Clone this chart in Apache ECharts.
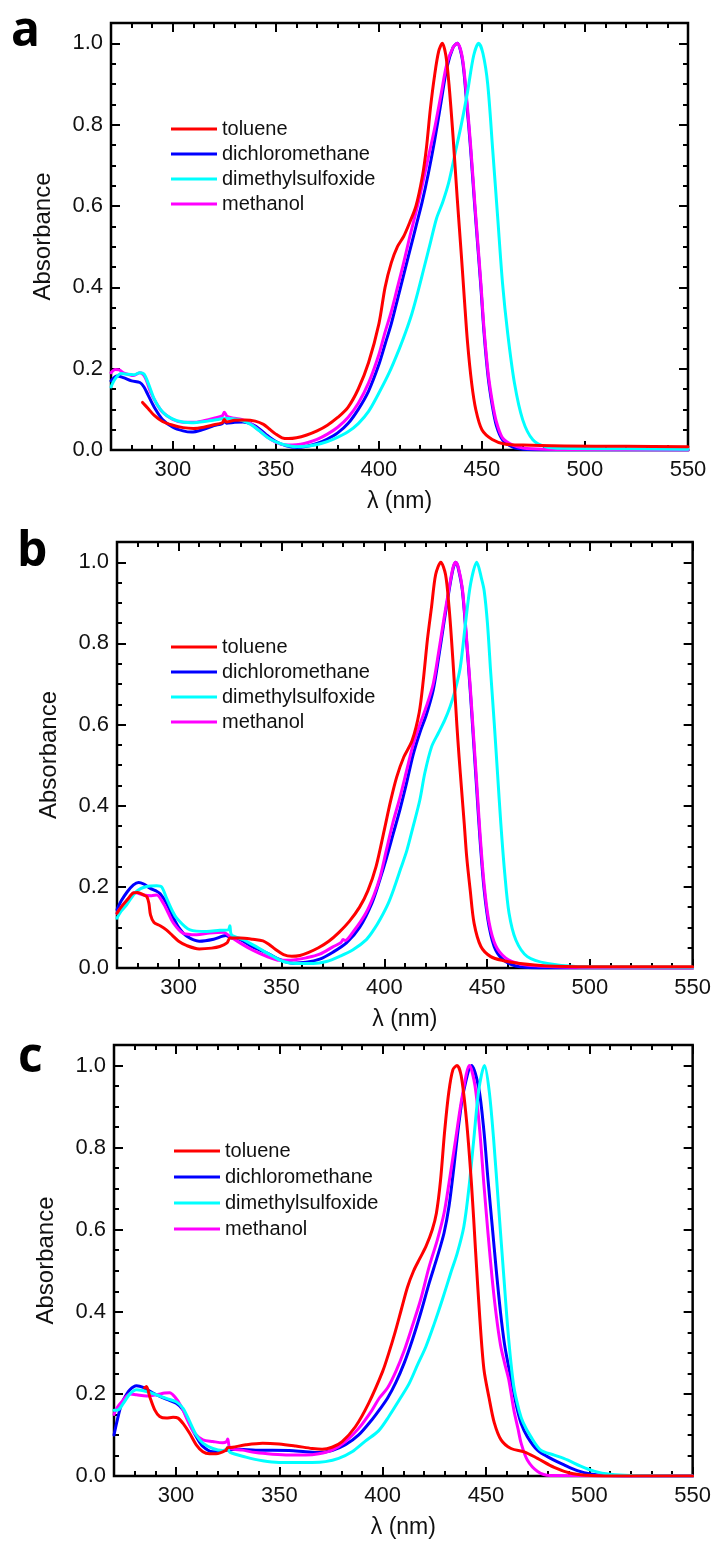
<!DOCTYPE html>
<html>
<head>
<meta charset="utf-8">
<title>Absorption spectra</title>
<script src="https://cdn.jsdelivr.net/npm/echarts@6/dist/echarts.min.js"></script>
<style>
  html, body { margin: 0; padding: 0; background: #fff; }
  #chart { width: 714px; height: 1541px; }
</style>
</head>
<body>
<div id="chart"></div>
<script>
// solvents, in legend order
const solvents = ['toluene', 'dichloromethane', 'dimethylsulfoxide', 'methanol']
const panelLetters = ['a', 'b', 'c']
const xMajorTicks = [300, 350, 400, 450, 500, 550]
const yMajorTicks = [0, 0.2, 0.4, 0.6, 0.8, 1.0]

// panel a: [wavelength nm, absorbance]
const aToluene = [[285.3,0.117],[288,0.102],[291,0.085],[295,0.07],[300,0.061],[305,0.055],[310,0.053],[315,0.056],[320,0.062],[324,0.067],[325,0.075],[326,0.069],[330,0.073],[335,0.074],[340,0.071],[344,0.063],[347,0.051],[350,0.039],[353,0.030],[356,0.028],[360,0.030],[365,0.037],[370,0.047],[375,0.061],[380,0.080],[385,0.105],[390,0.150],[395,0.215],[400,0.31],[403,0.40],[406,0.46],[409,0.50],[412,0.525],[415,0.56],[418,0.60],[421,0.67],[423,0.74],[425,0.84],[427,0.92],[429,0.98],[430.8,1.0],[432.5,0.97],[434,0.90],[436,0.77],[438,0.62],[440,0.48],[441.5,0.37],[443,0.265],[445,0.165],[447,0.10],[450,0.05],[455,0.026],[461,0.015],[470,0.012],[490,0.010],[520,0.009],[550,0.008]]
const aDcm = [[270,0.17],[273,0.182],[276,0.178],[280,0.17],[284,0.166],[286,0.155],[288,0.135],[291,0.105],[295,0.075],[300,0.056],[305,0.047],[309,0.044],[315,0.051],[320,0.060],[324,0.065],[325,0.071],[326,0.066],[330,0.068],[334,0.069],[338,0.064],[342,0.052],[346,0.035],[350,0.021],[355,0.010],[360,0.006],[365,0.009],[370,0.016],[375,0.027],[380,0.042],[385,0.065],[390,0.10],[395,0.145],[400,0.21],[403,0.26],[406,0.31],[409,0.37],[412,0.43],[415,0.49],[418,0.55],[421,0.61],[424,0.68],[427,0.76],[430,0.85],[433,0.94],[436,0.99],[438,1.0],[440.5,0.96],[442.5,0.86],[444.5,0.74],[446.5,0.60],[448,0.50],[449.5,0.40],[451,0.29],[453,0.18],[455,0.11],[457,0.06],[460,0.025],[465,0.007],[470,0.002],[480,0.0],[550,0.0]]
const aDmso = [[270,0.155],[272,0.175],[275,0.188],[278,0.186],[281,0.185],[284,0.19],[286,0.187],[288,0.165],[291,0.125],[294,0.1],[297,0.085],[302,0.072],[309,0.067],[317,0.071],[322,0.075],[325,0.078],[330,0.076],[334,0.072],[338,0.062],[342,0.047],[346,0.031],[350,0.02],[354,0.013],[360,0.008],[366,0.01],[372,0.016],[378,0.027],[385,0.045],[390,0.065],[395,0.095],[400,0.14],[405,0.19],[410,0.25],[413,0.29],[416,0.335],[419,0.39],[422,0.45],[425,0.51],[428,0.57],[431,0.61],[434,0.66],[437,0.73],[440,0.80],[443,0.88],[446,0.97],[448.4,1.0],[450.5,0.975],[452.8,0.90],[455.2,0.74],[457.6,0.575],[460,0.41],[462.5,0.287],[465.8,0.164],[469.8,0.074],[474.7,0.025],[481,0.008],[490,0.004],[520,0.003],[550,0.002]]
const aMeoh = [[270,0.19],[272,0.198],[274,0.197],[276,0.19],[279,0.185],[281,0.183],[284,0.19],[286.5,0.179],[289,0.145],[292,0.115],[295,0.093],[300,0.075],[305,0.068],[310,0.068],[315,0.072],[320,0.078],[324,0.084],[325,0.093],[326.5,0.082],[330,0.078],[334,0.074],[338,0.064],[342,0.048],[346,0.031],[350,0.019],[354,0.013],[358,0.012],[362,0.014],[366,0.019],[370,0.026],[375,0.039],[380,0.056],[385,0.08],[390,0.115],[395,0.165],[400,0.235],[403,0.29],[406,0.34],[409,0.40],[412,0.46],[415,0.525],[418,0.585],[421,0.65],[424,0.72],[427,0.79],[430,0.87],[433,0.95],[436,0.99],[438,1.0],[440.5,0.965],[442.5,0.87],[444.5,0.75],[446.5,0.61],[448,0.51],[449.5,0.41],[451,0.30],[453,0.19],[455,0.12],[457,0.07],[460,0.03],[465,0.012],[470,0.005],[480,0.002],[500,0.001],[550,0.0]]

// panel b
const bToluene = [[270,0.135],[272,0.15],[275,0.168],[278,0.185],[280,0.186],[283,0.18],[284.5,0.176],[285.5,0.16],[286.3,0.131],[288,0.112],[291,0.104],[294,0.094],[297,0.08],[300,0.066],[304,0.055],[310,0.047],[316,0.049],[320,0.053],[323.5,0.062],[325,0.074],[330,0.074],[336,0.071],[341,0.067],[344,0.058],[347,0.046],[351,0.033],[355,0.029],[359,0.031],[363,0.038],[368,0.050],[373,0.066],[378,0.088],[383,0.115],[388,0.15],[392,0.19],[396,0.25],[400,0.34],[403,0.41],[406,0.47],[409.5,0.52],[413.5,0.56],[417,0.63],[419,0.71],[421,0.81],[423,0.89],[425,0.97],[427.5,1.0],[429.8,0.97],[431.5,0.89],[432.7,0.81],[434,0.71],[435.3,0.60],[436.4,0.52],[437.6,0.44],[438.9,0.356],[440.1,0.274],[441.8,0.192],[443.7,0.11],[447,0.053],[451.8,0.028],[458,0.018],[466,0.011],[479,0.005],[500,0.003],[550,0.003]]
const bDcm = [[270,0.144],[272,0.165],[275,0.188],[278,0.205],[280.5,0.211],[283,0.207],[286,0.197],[289,0.19],[291,0.183],[294,0.16],[297,0.128],[300,0.1],[304,0.078],[310,0.066],[317,0.071],[323,0.08],[325,0.075],[330,0.07],[336,0.052],[343,0.037],[349,0.021],[355.7,0.012],[362,0.014],[368.6,0.022],[375,0.039],[381.6,0.062],[388,0.1],[394,0.16],[398,0.22],[401,0.27],[404.3,0.33],[407.6,0.39],[410.8,0.455],[414,0.525],[417.3,0.58],[420.5,0.625],[423.8,0.685],[426.5,0.767],[429,0.85],[431.5,0.93],[433.5,0.985],[434.8,1.0],[436,0.985],[438,0.93],[440,0.808],[441.8,0.685],[443.4,0.562],[445,0.438],[446.6,0.315],[448.6,0.192],[451,0.102],[454.2,0.044],[459,0.016],[466,0.003],[480,0.0],[550,0.0]]
const bDmso = [[270,0.123],[272,0.14],[274.7,0.156],[279.5,0.189],[284.4,0.201],[289.3,0.203],[291.7,0.2],[294.1,0.172],[297,0.14],[299,0.123],[305.5,0.094],[313.6,0.09],[320,0.093],[324.1,0.094],[324.9,0.104],[325.7,0.082],[331.4,0.07],[337.9,0.052],[344.3,0.033],[350.8,0.016],[357.3,0.011],[365.4,0.011],[371.9,0.016],[378.4,0.029],[384.8,0.045],[391.3,0.07],[395,0.095],[398,0.12],[402,0.16],[405,0.20],[408,0.245],[411,0.29],[414,0.348],[417.3,0.414],[419.7,0.48],[423,0.545],[426.2,0.578],[429.4,0.611],[432,0.644],[434.5,0.685],[437,0.742],[439.5,0.849],[442,0.947],[445,1.0],[447.3,0.96],[448.6,0.93],[450.2,0.849],[451.8,0.726],[453.5,0.603],[455.1,0.479],[456.7,0.356],[458.6,0.233],[460.7,0.135],[464,0.069],[469.6,0.028],[479.4,0.011],[495,0.003],[550,0.002]]
const bMeoh = [[270,0.135],[272,0.15],[275,0.168],[278.7,0.186],[282.8,0.18],[286.8,0.178],[289.3,0.18],[292.5,0.16],[295,0.135],[297.4,0.111],[302,0.086],[308.7,0.082],[315,0.086],[321.7,0.088],[324.9,0.078],[329.8,0.062],[336,0.044],[342.7,0.029],[349,0.019],[355.7,0.02],[362,0.025],[368.6,0.034],[375,0.052],[379,0.063],[380,0.07],[381,0.068],[385,0.09],[391,0.135],[395,0.18],[398,0.225],[401,0.29],[404.3,0.36],[407.6,0.42],[410.8,0.485],[414,0.55],[417.3,0.6],[420.5,0.645],[423.8,0.7],[426.5,0.78],[429,0.86],[431.5,0.935],[433.5,0.988],[434.8,1.0],[436,0.988],[438,0.935],[440,0.815],[441.8,0.695],[443.4,0.575],[445,0.455],[446.6,0.33],[448.6,0.205],[451,0.112],[454.2,0.055],[459,0.025],[466,0.01],[475,0.005],[490,0.002],[550,0.0]]

// panel c
const cToluene = [[284.8,0.215],[285.7,0.218],[287.3,0.193],[289.7,0.161],[292.1,0.145],[295.3,0.141],[298.6,0.143],[301,0.141],[303.4,0.128],[306.6,0.104],[309.8,0.076],[313,0.059],[316.2,0.054],[319.4,0.054],[324,0.062],[325,0.069],[327.4,0.07],[333.8,0.076],[341.9,0.08],[349.9,0.078],[357.9,0.073],[365.9,0.067],[370.7,0.065],[375.5,0.07],[380.4,0.084],[386.8,0.12],[393.2,0.177],[400,0.255],[403,0.30],[406,0.35],[409,0.405],[412,0.46],[415,0.50],[418,0.53],[421,0.56],[424,0.60],[426,0.64],[428,0.72],[430,0.84],[432,0.935],[434,0.99],[436,1.0],[438,0.975],[440.5,0.87],[443,0.71],[445,0.545],[447,0.385],[449,0.26],[451.5,0.19],[454,0.13],[457.3,0.088],[462.1,0.067],[468.5,0.059],[474.9,0.043],[483,0.021],[491,0.0065],[499,0.0016],[507,0.0],[550,0.0]]
const cDcm = [[270,0.10],[271.3,0.13],[273,0.165],[274.5,0.185],[277.7,0.21],[280.9,0.22],[284.1,0.216],[288.9,0.202],[295.3,0.187],[300.1,0.177],[303.4,0.161],[306.6,0.128],[309.8,0.096],[313,0.072],[317.8,0.059],[324.2,0.063],[330.6,0.065],[338.6,0.063],[346.7,0.063],[354.7,0.062],[362.7,0.059],[369.1,0.057],[375.5,0.062],[382,0.076],[388.4,0.10],[394.8,0.137],[398.4,0.161],[402.4,0.19],[406.4,0.228],[410.4,0.275],[414.4,0.332],[418.4,0.397],[422.5,0.47],[426.5,0.535],[429.7,0.592],[432.1,0.657],[434.5,0.754],[436.9,0.86],[439.3,0.94],[443,1.0],[446.5,0.945],[449,0.84],[451,0.72],[453,0.61],[455,0.50],[457,0.40],[459,0.32],[461,0.265],[463,0.215],[465,0.165],[467,0.128],[470,0.096],[474.9,0.063],[481.3,0.043],[487.8,0.027],[494.2,0.013],[500.6,0.005],[510,0.001],[520,0.0],[550,0.0]]
const cDmso = [[270,0.16],[272,0.161],[274.5,0.177],[277.7,0.2],[280.9,0.21],[285.7,0.206],[290.5,0.198],[295.3,0.189],[300.1,0.181],[303.4,0.165],[306.6,0.133],[309.8,0.10],[313,0.08],[317.8,0.067],[322.6,0.062],[324.5,0.065],[325,0.07],[326,0.058],[333.8,0.046],[341.9,0.037],[349.9,0.033],[357.9,0.033],[365.9,0.033],[372.3,0.035],[378.7,0.043],[385.2,0.059],[391.6,0.085],[398,0.11],[403,0.145],[408,0.185],[412.8,0.225],[416.8,0.27],[420.9,0.315],[424.9,0.37],[428.9,0.43],[432.9,0.494],[436.1,0.543],[439.3,0.608],[441.7,0.70],[444.1,0.82],[446.5,0.94],[449.3,1.0],[451.5,0.94],[453.7,0.82],[456.1,0.657],[458.5,0.494],[461,0.332],[463.4,0.22],[466,0.16],[468,0.13],[471.7,0.096],[476.5,0.063],[483,0.051],[489.4,0.039],[495.8,0.024],[502.2,0.012],[510.2,0.004],[519.8,0.001],[550,0.0]]
const cMeoh = [[270,0.15],[271.3,0.165],[274.5,0.185],[277.7,0.2],[280.9,0.198],[285.7,0.195],[290.5,0.198],[294.5,0.202],[296.9,0.203],[299.4,0.193],[302.6,0.169],[305.8,0.133],[309,0.104],[313,0.088],[317.8,0.084],[322.6,0.081],[324.5,0.084],[325,0.09],[326.2,0.068],[332.2,0.063],[338.6,0.057],[346.7,0.053],[354.7,0.051],[362.7,0.051],[369.1,0.054],[375.5,0.063],[382,0.084],[388.4,0.116],[394.8,0.16],[398.4,0.19],[402.4,0.215],[406.4,0.255],[410.4,0.305],[414.4,0.366],[418.4,0.43],[422.5,0.51],[426.5,0.576],[429.7,0.64],[432.1,0.714],[435.3,0.82],[438.5,0.925],[442,1.0],[444.7,0.95],[447,0.84],[449,0.71],[451,0.59],[453,0.48],[455,0.39],[457,0.32],[459,0.275],[461,0.235],[463.5,0.16],[465.5,0.115],[467,0.08],[470,0.039],[475,0.011],[481,0.001],[550,0.0]]

const panelData = [
  [aToluene, aDcm, aDmso, aMeoh],
  [bToluene, bDcm, bDmso, bMeoh],
  [cToluene, cDcm, cDmso, cMeoh]
]
const lineColors = ['#ff0000', '#0000ff', '#00ffff', '#ff00ff']
// draw order: dcm, methanol, dmso, toluene on top
const drawOrder = [1, 3, 2, 0]

const font = '"Liberation Sans", Arial, sans-serif'
const grids = [
  { left: 111, top: 23, width: 577, height: 427 },
  { left: 117, top: 542, width: 576, height: 426 },
  { left: 114, top: 1045, width: 583, height: 431 }
]
const legendPos = [
  { left: 166, top: 114, gap: 5 },
  { left: 166, top: 632, gap: 5 },
  { left: 169, top: 1136, gap: 6 }
]
const letterPos = [
  { left: 11, top: 8 },
  { left: 17, top: 528 },
  { left: 18, top: 1034 }
]

var myChart = echarts.init(document.getElementById('chart'))

const xAxes = []
const yAxes = []
const series = []

grids.forEach((g, i) => {
  // x: minor ticks every 10 nm, major ticks + labels every 50 nm, mirrored on top
  ;['bottom', 'top'].forEach(pos => {
    xAxes.push({
      type: 'value', gridIndex: i, position: pos, min: 270, max: 550, interval: 10,
      axisLine: { show: false, onZero: false },
      splitLine: { show: false },
      axisTick: { inside: true, length: 5, lineStyle: { color: '#000', width: 2 } },
      axisLabel: pos === 'bottom'
        ? { customValues: xMajorTicks, margin: 9, fontSize: 22, color: '#111', fontFamily: font }
        : { show: false },
      name: pos === 'bottom' ? 'λ (nm)' : '',
      nameLocation: 'middle', nameGap: 40,
      nameTextStyle: { fontSize: 23, color: '#111', fontFamily: font }
    })
    xAxes.push({
      type: 'value', gridIndex: i, position: pos, min: 270, max: 550, interval: 10,
      axisLine: { show: false, onZero: false },
      splitLine: { show: false },
      axisTick: { inside: true, length: 9, customValues: xMajorTicks, lineStyle: { color: '#000', width: 2 } },
      axisLabel: { show: false }
    })
  })
  // y: minor ticks every 0.05, major ticks + labels every 0.2, mirrored on the right
  ;['left', 'right'].forEach(pos => {
    yAxes.push({
      type: 'value', gridIndex: i, position: pos, min: 0, max: 1.05, interval: 0.05,
      axisLine: { show: false, onZero: false },
      splitLine: { show: false },
      axisTick: { inside: true, length: 5, lineStyle: { color: '#000', width: 2 } },
      axisLabel: pos === 'left'
        ? { customValues: yMajorTicks, margin: 8, fontSize: 22, color: '#111', fontFamily: font,
            formatter: v => v.toFixed(1) }
        : { show: false },
      name: pos === 'left' ? 'Absorbance' : '',
      nameLocation: 'middle', nameGap: 56, nameRotate: 90,
      nameTextStyle: { fontSize: 24, color: '#111', fontFamily: font }
    })
    yAxes.push({
      type: 'value', gridIndex: i, position: pos, min: 0, max: 1.05, interval: 0.05,
      axisLine: { show: false, onZero: false },
      splitLine: { show: false },
      axisTick: { inside: true, length: 9, customValues: yMajorTicks, lineStyle: { color: '#000', width: 2 } },
      axisLabel: { show: false }
    })
  })

  drawOrder.forEach(k => {
    series.push({
      name: solvents[k],
      type: 'line',
      xAxisIndex: i * 4,
      yAxisIndex: i * 4,
      data: panelData[i][k],
      showSymbol: false,
      smooth: 0.3,
      color: lineColors[k],
      lineStyle: { width: 3, color: lineColors[k], join: 'round', cap: 'round' }
    })
  })
})

const option = {
  animation: false,
  backgroundColor: '#fff',
  grid: grids.map(g => Object.assign({ show: true, borderColor: '#000', borderWidth: 2.5 }, g)),
  xAxis: xAxes,
  yAxis: yAxes,
  legend: legendPos.map(p => ({
    orient: 'vertical', left: p.left, top: p.top, itemGap: p.gap,
    itemWidth: 46, itemHeight: 3, icon: 'rect',
    selectedMode: false,
    data: solvents,
    textStyle: { fontSize: 20, color: '#111', fontFamily: font }
  })),
  graphic: panelLetters.map((t, i) => ({
    type: 'text', left: letterPos[i].left, top: letterPos[i].top,
    style: { text: t, font: 'bold 48px "Open Sans", "DejaVu Sans", sans-serif', fill: '#000' }
  })),
  series: series
}
myChart.setOption(option)
</script>
</body>
</html>
